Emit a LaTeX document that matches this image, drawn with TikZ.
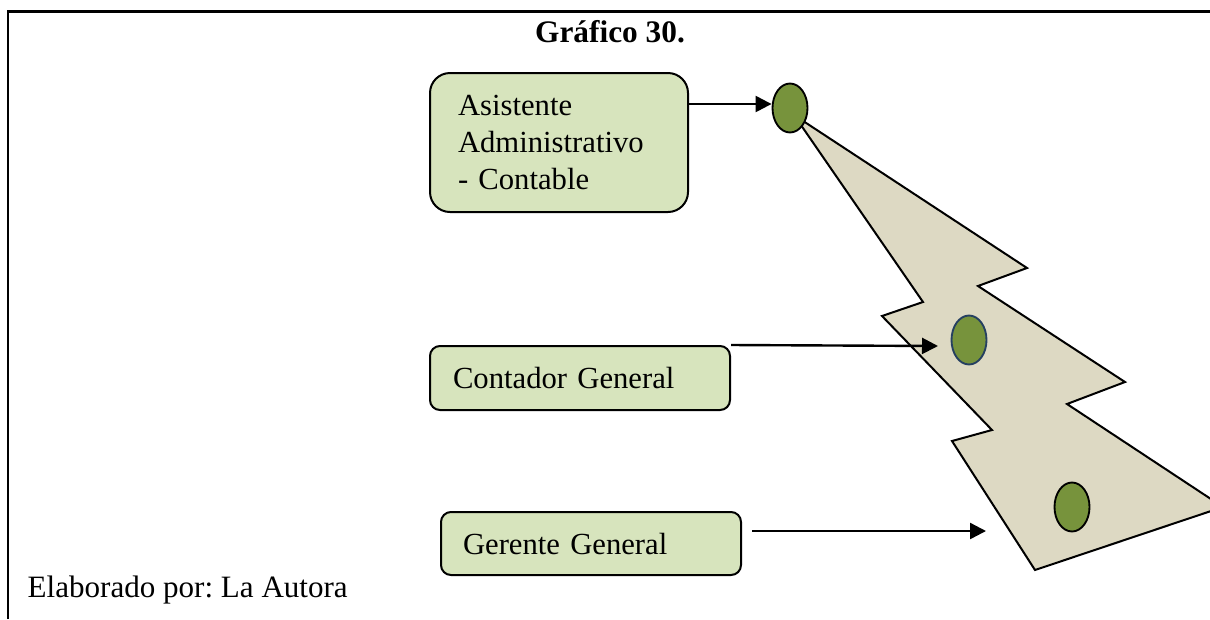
\documentclass[tikz,border=0pt]{standalone}
\usepackage{fontspec}
\setmainfont{Liberation Serif}
\usetikzlibrary{arrows.meta,shapes.geometric}
\definecolor{boxgreen}{HTML}{D7E4BD}
\definecolor{olivedot}{HTML}{77933C}
\definecolor{treetan}{HTML}{DDD9C3}
\definecolor{navyline}{HTML}{254061}
\tikzset{
  rolebox/.style={draw=black, line width=1.5pt, fill=boxgreen, align=left,
    inner ysep=0pt, font=\fontsize{23pt}{27.75pt}\selectfont},
  dot/.style={ellipse, draw=black, line width=1.4pt, fill=olivedot,
    minimum width=26.25pt, minimum height=36.75pt, inner sep=0pt},
  arr/.style={line width=1.8pt, -{Triangle[length=12pt,width=12pt]}},
  frame/.style={line width=2.2pt},
}
\frenchspacing
\begin{document}
\begin{tikzpicture}[x=0.75pt,y=-0.75pt]
\clip (0,0) rectangle (1210,619);
\fill[white] (0,0) rectangle (1210,619);

% page frame: top rule and left rule
\draw[frame] (8,619) -- (8,11.5) -- (1210,11.5);

% title and source note
\node[anchor=base, font=\fontsize{23.5pt}{28pt}\selectfont\bfseries] (title) at (610,42) {Gráfico 30.};
\node[anchor=base west, font=\fontsize{23.3pt}{28pt}\selectfont] (source) at (23,597) {Elaborado por: La Autora};

% jagged tree
\draw[line width=1.5pt, fill=treetan, line join=miter]
  (794,115) -- (923,302) -- (882,316) -- (992,430) -- (952,441) -- (1035,570)
  -- (1223,507) -- (1067,404) -- (1125,382) -- (978,286) -- (1027,268) -- cycle;

% ornaments on the tree
\node[dot] (e1) at (790,108) {};
\node[dot, draw=navyline] (e2) at (969,340) {};
\node[dot] (e3) at (1072,507) {};

% role boxes
\node[rolebox, rounded corners=15pt, inner xsep=21pt, text width=151.5pt,
  minimum height=104.25pt] (asis) at (559,142.5)
  {Asistente\\Administrativo\\- Contable};
\node[rolebox, rounded corners=7.5pt, inner xsep=17.25pt, text width=190.5pt,
  minimum height=48pt] (cont) at (580,378) {Contador General};
\node[rolebox, rounded corners=7.5pt, inner xsep=16.5pt, text width=192pt,
  minimum height=47.25pt] (ger) at (591,543.5) {Gerente General};

% arrow ends
\coordinate (t1) at ([yshift=3pt]e1.west);
\coordinate (t2) at (938,346);
\coordinate (s3) at (752,531);
\coordinate (t3) at (986,531);

% connectors
\draw[arr] (asis.east |- t1) -- (t1);
\draw[arr] (cont.north east) -- (t2);
\draw[arr] (s3) -- (t3);
\end{tikzpicture}
\end{document}
